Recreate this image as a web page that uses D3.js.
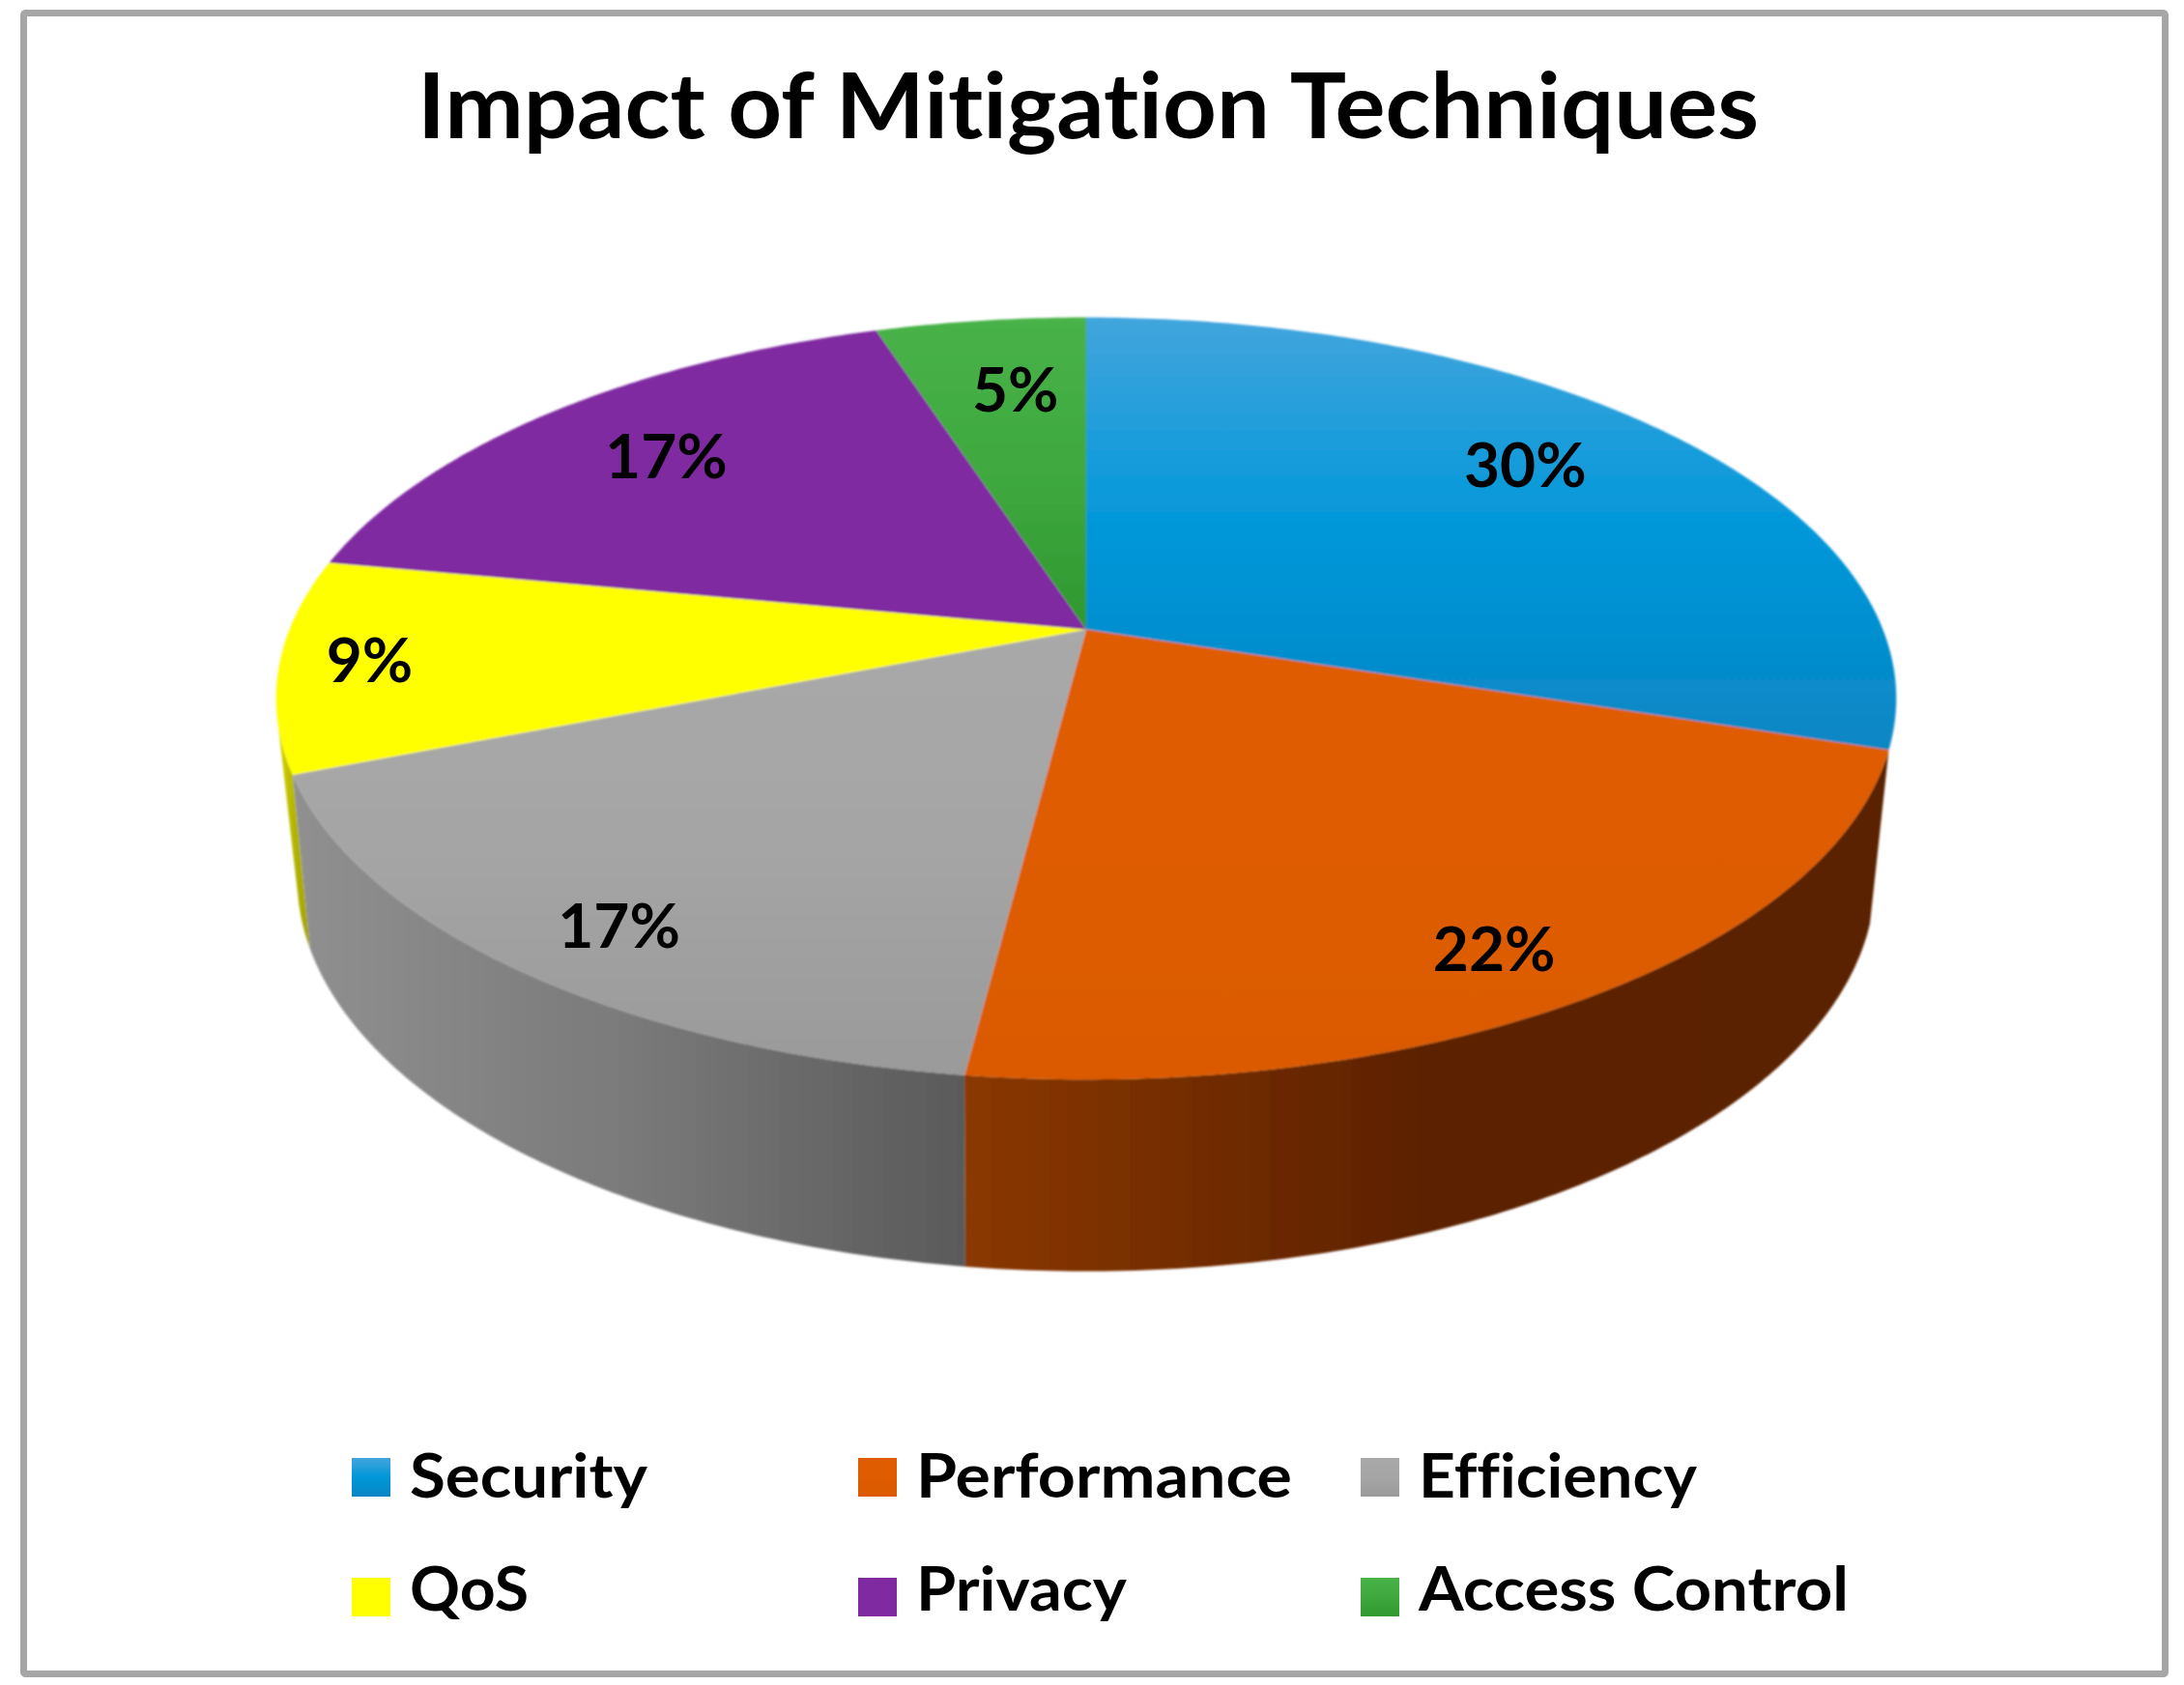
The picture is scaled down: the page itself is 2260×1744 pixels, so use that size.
<!DOCTYPE html>
<html><head><meta charset="utf-8">
<script src="https://cdn.jsdelivr.net/npm/d3@7"></script>
<style>html,body{margin:0;padding:0;background:#fff}svg{display:block}text{font-family:Lato,"Noto Sans",sans-serif;fill:#000;font-variant-ligatures:none}</style>
</head><body><div id="chart"></div>
<script>
const titleText = "Impact of Mitigation Techniques";
const categories = ["Security","Performance","Efficiency","QoS","Privacy","Access Control"];
const values = [30,22,17,9,17,5];
const labels = ["30%","22%","17%","9%","17%","5%"];
const topStops = [["#42a5dd","#0097d9","#0a86c4"],["#df5c00","#df5c00","#db5a00"],["#a9a9a9","#a5a5a5","#9a9a9a"],["#ffff00","#ffff00","#ffff00"],["#7f2aa0","#7f2aa0","#7f2aa0"],["#48b248","#3fa93f","#2f982f"]];
const sideStops = [["#0a86c4","#0a6ea0"],["#8a3800","#5c2100","#5a2300"],["#909090","#7a7a7a","#5a5a5a"],["#d8d800","#b4b400","#a0a000"],["#5a1e70","#5a1e70"],["#2f7f2f","#2f7f2f"]];

const W=2260,H=1744;
const cx=1124, cy=651.5;
const topFace={A:824.4,B:381.4,k:0.181,d:0};
const botFace={A:800,B:390.6,k:0.2,d:176};
const visibleFrom=108*Math.PI/180, visibleTo=256*Math.PI/180;
const labelRadius=0.75;
const labelNudge=[[-9,-16],[48,56],[-59,52],[-118,3],[-9,-7],[12,-1]];
const legendWidths=[246,389,288,123,218,445];

const project=(f,theta,r=1)=>{
  const u=r*Math.sin(theta), v=-r*Math.cos(theta), w=1-f.k*v;
  return [cx+f.A*u/w, cy+f.d+f.B*v/w];
};
const arcPts=(f,a,b)=>{const n=Math.max(2,Math.ceil(Math.abs(b-a)*90));return d3.range(n+1).map(i=>project(f,a+(b-a)*i/n));};
const line=d3.line();

const svg=d3.select("#chart").append("svg").attr("width",W).attr("height",H).attr("viewBox",`0 0 ${W} ${H}`);
svg.append("rect").attr("width",W).attr("height",H).attr("fill","#fff");
svg.append("rect").attr("x",24.5).attr("y",13.5).attr("width",2216).attr("height",1719).attr("fill","none").attr("stroke","#a6a6a6").attr("stroke-width",7).attr("rx",2);

const defs=svg.append("defs");
const grad=(id,stops,x2,y2)=>{
  const g=defs.append("linearGradient").attr("id",id).attr("x1",0).attr("y1",0).attr("x2",x2).attr("y2",y2);
  stops.forEach((c,i)=>g.append("stop").attr("offset",i/(stops.length-1)).attr("stop-color",c));
};
categories.forEach((c,i)=>{grad("top"+i,topStops[i],0,1);grad("side"+i,sideStops[i],1,0);});

const slices=d3.pie().sort(null).value(d=>d)(values);
const soft=defs.append("filter").attr("id","soft").attr("x","-2%").attr("y","-2%").attr("width","104%").attr("height","104%");
soft.append("feGaussianBlur").attr("stdDeviation",0.9);
const pie=svg.append("g").attr("filter","url(#soft)");

// sides, drawn back to front
slices.map((s,i)=>({s,i,a:Math.max(s.startAngle,visibleFrom),b:Math.min(s.endAngle,visibleTo)}))
 .filter(d=>d.b>d.a).reverse()
 .forEach(d=>{
   const pts=arcPts(topFace,d.a,d.b).concat(arcPts(botFace,d.b,d.a));
   pie.append("path").attr("d",line(pts)+"Z").attr("fill",`url(#side${d.i})`);
 });
// top face
pie.selectAll("path.top").data(slices).join("path").attr("class","top")
 .attr("d",s=>line([[cx,cy],...arcPts(topFace,s.startAngle,s.endAngle)])+"Z")
 .attr("fill",(s,i)=>`url(#top${i})`);

// percentage labels
svg.selectAll("text.pct").data(slices).join("text").attr("class","pct")
 .attr("text-anchor","middle").attr("font-size",64).attr("font-weight",700).attr("dominant-baseline","central")
 .attr("x",(s,i)=>project(topFace,(s.startAngle+s.endAngle)/2,labelRadius)[0]+labelNudge[i][0])
 .attr("y",(s,i)=>project(topFace,(s.startAngle+s.endAngle)/2,labelRadius)[1]+labelNudge[i][1])
 .text((s,i)=>labels[i]);

svg.append("text").attr("x",432).attr("y",143).attr("font-size",94).attr("font-weight",700)
 .attr("textLength",1388).attr("lengthAdjust","spacingAndGlyphs").text(titleText);

// legend
const colX=[364,888,1408], rowY=[1509,1633], baseY=[1550,1667];
categories.forEach((c,i)=>{
  const col=i%3,row=Math.floor(i/3);
  svg.append("rect").attr("x",colX[col]).attr("y",rowY[row]).attr("width",40).attr("height",40).attr("fill",`url(#top${i})`);
  svg.append("text").attr("x",colX[col]+60).attr("y",baseY[row]).attr("font-size",63).attr("font-weight",700)
    .attr("textLength",legendWidths[i]).attr("lengthAdjust","spacingAndGlyphs").text(c);
});
</script></body></html>
